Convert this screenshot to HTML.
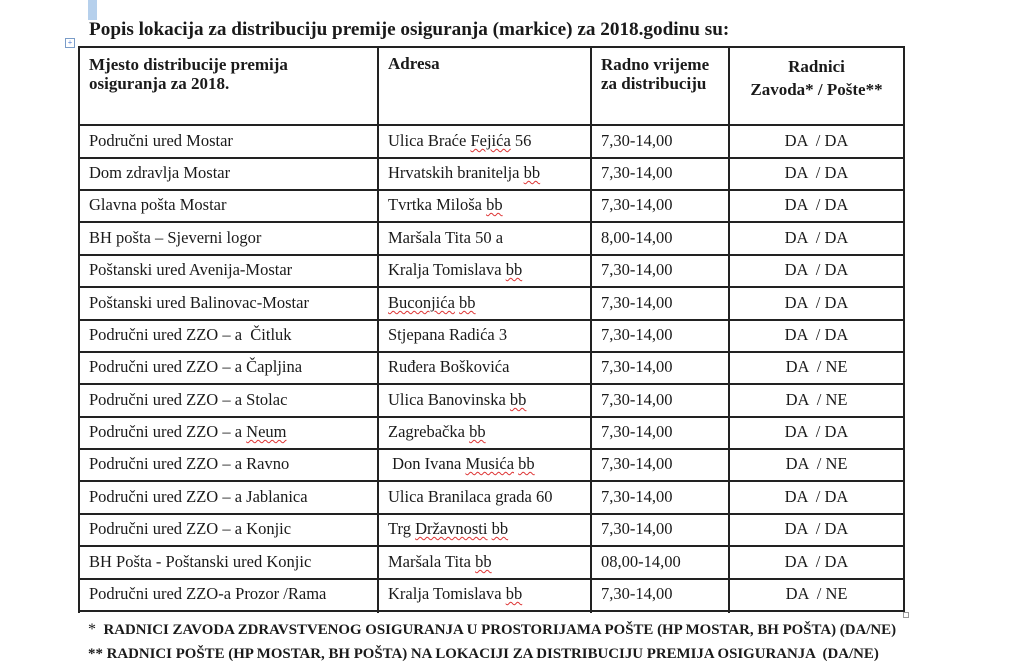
<!DOCTYPE html>
<html><head><meta charset="utf-8"><style>
body{margin:0;width:1024px;height:672px;background:#fff;position:relative;overflow:hidden;font-family:"Liberation Serif",serif;color:#1a1a1a}
.a{position:absolute;white-space:nowrap}
.h{position:absolute;background:#222;height:2px;left:78px;width:827px}
.v{position:absolute;background:#222;width:2px;top:47px;height:566px}
.t{position:absolute;font-size:16.5px;line-height:18px;white-space:nowrap}
.b{font-weight:bold;font-size:17px}
.u{text-decoration:underline wavy #d33;text-decoration-thickness:1px;text-underline-offset:2px}
.sc{font-size:14.9px;font-weight:bold;letter-spacing:0}
</style></head><body>
<div class="a" style="left:88px;top:0;width:9px;height:20px;background:#b6d0ec"></div>
<div class="a" style="left:65px;top:38px;width:8px;height:8px;border:1px solid #7a9cc8;font-size:8px;line-height:8px;text-align:center;color:#36c">+</div>
<div class="a b" style="left:89px;top:19px;font-size:19.2px">Popis lokacija za distribuciju premije osiguranja (markice) za 2018.godinu su:</div>
<div class="h" style="top:46px"></div>
<div class="h" style="top:124px"></div>
<div class="h" style="top:157px"></div>
<div class="h" style="top:189px"></div>
<div class="h" style="top:221px"></div>
<div class="h" style="top:254px"></div>
<div class="h" style="top:286px"></div>
<div class="h" style="top:319px"></div>
<div class="h" style="top:351px"></div>
<div class="h" style="top:383px"></div>
<div class="h" style="top:416px"></div>
<div class="h" style="top:448px"></div>
<div class="h" style="top:480px"></div>
<div class="h" style="top:513px"></div>
<div class="h" style="top:545px"></div>
<div class="h" style="top:578px"></div>
<div class="h" style="top:610px"></div>
<div class="v" style="left:78px"></div>
<div class="v" style="left:377px"></div>
<div class="v" style="left:590px"></div>
<div class="v" style="left:728px"></div>
<div class="v" style="left:903px"></div>
<div class="a" style="left:903px;top:612px;width:4px;height:4px;border:1px solid #999"></div>
<div class="t b" style="left:89px;top:55px;line-height:19px">Mjesto distribucije premija<br>osiguranja za 2018.</div>
<div class="t b" style="left:388px;top:55px">Adresa</div>
<div class="t b" style="left:601px;top:55px;line-height:19px">Radno vrijeme<br>za distribuciju</div>
<div class="t b" style="left:730px;width:173px;text-align:center;top:55px;line-height:23px">Radnici<br>Zavoda* / Pošte**</div>

<div class="t" style="left:89px;top:132px">Područni ured Mostar</div><div class="t" style="left:388px;top:132px">Ulica Braće <span class="u">Fejića</span> 56</div><div class="t" style="left:601px;top:132px">7,30-14,00</div><div class="t" style="left:730px;width:173px;text-align:center;top:132px">DA &nbsp;/ DA</div>
<div class="t" style="left:89px;top:164px">Dom zdravlja Mostar</div><div class="t" style="left:388px;top:164px">Hrvatskih branitelja <span class="u">bb</span></div><div class="t" style="left:601px;top:164px">7,30-14,00</div><div class="t" style="left:730px;width:173px;text-align:center;top:164px">DA &nbsp;/ DA</div>
<div class="t" style="left:89px;top:196px">Glavna pošta Mostar</div><div class="t" style="left:388px;top:196px">Tvrtka Miloša <span class="u">bb</span></div><div class="t" style="left:601px;top:196px">7,30-14,00</div><div class="t" style="left:730px;width:173px;text-align:center;top:196px">DA &nbsp;/ DA</div>
<div class="t" style="left:89px;top:229px">BH pošta – Sjeverni logor</div><div class="t" style="left:388px;top:229px">Maršala Tita 50 a</div><div class="t" style="left:601px;top:229px">8,00-14,00</div><div class="t" style="left:730px;width:173px;text-align:center;top:229px">DA &nbsp;/ DA</div>
<div class="t" style="left:89px;top:261px">Poštanski ured Avenija-Mostar</div><div class="t" style="left:388px;top:261px">Kralja Tomislava <span class="u">bb</span></div><div class="t" style="left:601px;top:261px">7,30-14,00</div><div class="t" style="left:730px;width:173px;text-align:center;top:261px">DA &nbsp;/ DA</div>
<div class="t" style="left:89px;top:294px">Poštanski ured Balinovac-Mostar</div><div class="t" style="left:388px;top:294px"><span class="u">Buconjića</span> <span class="u">bb</span></div><div class="t" style="left:601px;top:294px">7,30-14,00</div><div class="t" style="left:730px;width:173px;text-align:center;top:294px">DA &nbsp;/ DA</div>
<div class="t" style="left:89px;top:326px">Područni ured ZZO – a &nbsp;Čitluk</div><div class="t" style="left:388px;top:326px">Stjepana Radića 3</div><div class="t" style="left:601px;top:326px">7,30-14,00</div><div class="t" style="left:730px;width:173px;text-align:center;top:326px">DA &nbsp;/ DA</div>
<div class="t" style="left:89px;top:358px">Područni ured ZZO – a Čapljina</div><div class="t" style="left:388px;top:358px">Ruđera Boškovića</div><div class="t" style="left:601px;top:358px">7,30-14,00</div><div class="t" style="left:730px;width:173px;text-align:center;top:358px">DA &nbsp;/ NE</div>
<div class="t" style="left:89px;top:391px">Područni ured ZZO – a Stolac</div><div class="t" style="left:388px;top:391px">Ulica Banovinska <span class="u">bb</span></div><div class="t" style="left:601px;top:391px">7,30-14,00</div><div class="t" style="left:730px;width:173px;text-align:center;top:391px">DA &nbsp;/ NE</div>
<div class="t" style="left:89px;top:423px">Područni ured ZZO – a <span class="u">Neum</span></div><div class="t" style="left:388px;top:423px">Zagrebačka <span class="u">bb</span></div><div class="t" style="left:601px;top:423px">7,30-14,00</div><div class="t" style="left:730px;width:173px;text-align:center;top:423px">DA &nbsp;/ DA</div>
<div class="t" style="left:89px;top:455px">Područni ured ZZO – a Ravno</div><div class="t" style="left:388px;top:455px">&nbsp;Don Ivana <span class="u">Musića</span> <span class="u">bb</span></div><div class="t" style="left:601px;top:455px">7,30-14,00</div><div class="t" style="left:730px;width:173px;text-align:center;top:455px">DA &nbsp;/ NE</div>
<div class="t" style="left:89px;top:488px">Područni ured ZZO – a Jablanica</div><div class="t" style="left:388px;top:488px">Ulica Branilaca grada 60</div><div class="t" style="left:601px;top:488px">7,30-14,00</div><div class="t" style="left:730px;width:173px;text-align:center;top:488px">DA &nbsp;/ DA</div>
<div class="t" style="left:89px;top:520px">Područni ured ZZO – a Konjic</div><div class="t" style="left:388px;top:520px">Trg <span class="u">Državnosti</span> <span class="u">bb</span></div><div class="t" style="left:601px;top:520px">7,30-14,00</div><div class="t" style="left:730px;width:173px;text-align:center;top:520px">DA &nbsp;/ DA</div>
<div class="t" style="left:89px;top:553px">BH Pošta - Poštanski ured Konjic</div><div class="t" style="left:388px;top:553px">Maršala Tita <span class="u">bb</span></div><div class="t" style="left:601px;top:553px">08,00-14,00</div><div class="t" style="left:730px;width:173px;text-align:center;top:553px">DA &nbsp;/ DA</div>
<div class="t" style="left:89px;top:585px">Područni ured ZZO-a Prozor /Rama</div><div class="t" style="left:388px;top:585px">Kralja Tomislava <span class="u">bb</span></div><div class="t" style="left:601px;top:585px">7,30-14,00</div><div class="t" style="left:730px;width:173px;text-align:center;top:585px">DA &nbsp;/ NE</div>

<div class="a sc" style="left:88px;top:621px"><span style="font-size:16px;font-weight:normal">*</span> &nbsp;RADNICI ZAVODA ZDRAVSTVENOG OSIGURANJA U PROSTORIJAMA POŠTE (HP MOSTAR, BH POŠTA) (DA/NE)</div>
<div class="a sc" style="left:88px;top:646px">** RADNICI POŠTE (HP MOSTAR, BH POŠTA) NA LOKACIJI ZA DISTRIBUCIJU PREMIJA OSIGURANJA &nbsp;(DA/NE)</div>
</body></html>
